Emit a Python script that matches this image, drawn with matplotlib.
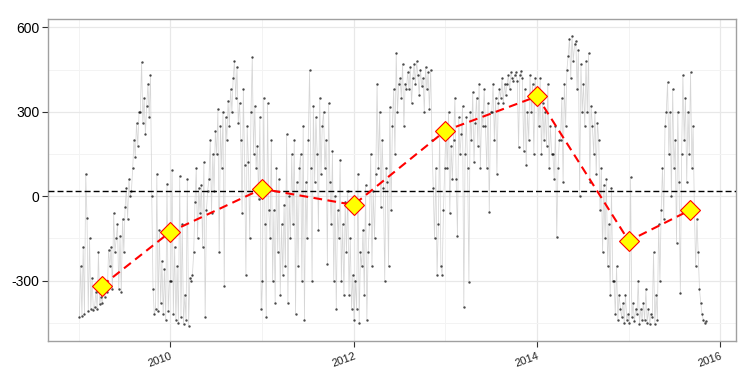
import numpy as np
import pandas as pd
import matplotlib
matplotlib.use("Agg")
import matplotlib.pyplot as plt
import matplotlib.dates as mdates
from matplotlib.ticker import FixedLocator

plt.rcParams['font.family'] = ['Liberation Sans', 'DejaVu Sans']
plt.rcParams['axes.unicode_minus'] = False

# ---- daily-ish series (about 6 readings per month) ----
v2009 = [-430, -250, -425, -180, -420, 80,
         -78, -410, -150, -400, -290, -405,
         -395, -340, -400, -200, -385, -360,
         -380, -330, -360, -300, -340, -190,
         -250, -180, -330, -60, -200, -150,
         -100, -330, -140, -340, -80, -200,
         -40, 30, -80, 60, 0, 20,
         100, 200, 140, 260, 180, 300,
         300, 476, 260, 350, 220, 320,
         400, 280, 430, 0, -330, -420,
         -400, 80, -410, -120, -380, -230,
         -420, -260, -440, 45, -410, -300]
v2010 = [-300, 92, -420, -180, -440, -250,
         -450, 70, -430, -100, -455, -350,
         -440, 60, -460, -290, -300, -280,
         -200, -20, 100, -150, 30, -60,
         40, -180, 120, -430, -50, 20,
         60, 200, -60, 150, 20, 230,
         150, 310, -200, 250, 100, 300,
         -320, 280, 200, 340, 250, 380,
         300, 420, 480, 350, 460, 260,
         330, 200, -60, 380, 110, -280,
         250, 120, -150, 300, 494, 150,
         320, 100, 180, -10, 280, -400]
v2011 = [-300, 350, -100, -430, 330, -50,
         -150, 200, -300, -50, -380, 100,
         -200, 60, -350, -100, -280, -30,
         -250, 220, -380, 0, -150, 150,
         -100, 200, -420, 50, -250, 100,
         150, -300, 250, -440, 50, -150,
         200, 447, 100, -300, 320, 50,
         280, 150, -120, 350, 80, 250,
         300, 100, 200, -240, 330, 50,
         -100, 160, -300, 0, -400, -50,
         -150, 130, -300, -100, -350, -20,
         -200, 20, -350, -150, -400, -280]
v2012 = [-440, -300, -400, 80, -450, -200,
         -250, -120, -350, 40, -440, -200,
         -100, 150, -250, 20, -150, 80,
         400, 100, 300, -40, 200, 30,
         -300, 100, 50, -250, 317, -50,
         250, 380, 150, 508, 300, 400,
         420, 350, 470, 250, 400, 380,
         440, 380, 460, 330, 420, 470,
         400, 479, 430, 360, 450, 390,
         420, 300, 460, 380, 440, 310,
         450, 200, 30, -150, 100, -280,
         -100, 230, -250, -280, -50, 100]
v2013 = [250, 100, 300, -60, 180, 60,
         200, 350, 60, -140, 280, 150,
         220, 320, -395, 150, 280, 100,
         -305, 300, 200, 370, 120, 260,
         350, 180, 400, 100, 300, 250,
         380, 250, 100, 330, -57, 300,
         300, 400, 200, 350, 80, 330,
         380, 350, 420, 330, 400, 360,
         400, 430, 380, 440, 420, 410,
         430, 440, 410, 175, 430, 445,
         420, 160, 380, 110, 300, 200,
         430, 300, 400, 150, 420, 350]
v2014 = [380, 250, 420, 150, 330, 200,
         300, 180, 400, 100, 250, 150,
         150, 60, 250, -145, 100, 200,
         200, 350, 50, 400, 250, 450,
         500, 560, 420, 570, 480, 540,
         550, 380, 520, 0, 470, 300,
         400, 250, 480, 300, 508, 50,
         320, 250, 150, 300, 80, 260,
         200, -50, 100, -200, 40, -150,
         60, -250, -100, -350, 30, -300,
         -300, -420, -250, -440, -350, -400,
         -430, -380, -450, -350, -440, -420]
v2015 = [-450, 67, -430, -380, -445, -400,
         -420, -300, -455, -400, -440, -380,
         -440, -330, -450, -400, -455, -420,
         -430, -200, -455, -350, -440, -100,
         -300, -50, 100, -80, 250, 300,
         405, 150, 300, 0, 380, 100,
         200, -167, 300, 50, -345, 150,
         430, 200, 350, 50, 300, 150,
         440, 100, 250, -50, -250, -80,
         -200, -330, -380, -420, -440, -450,
         -445]

year_series = {2009: v2009, 2010: v2010, 2011: v2011, 2012: v2012,
               2013: v2013, 2014: v2014, 2015: v2015}
year_ends = {2015: '2015-11-04'}

# ---- yearly means (diamonds) ----
mean_dates = ['2009-04-03', '2010-01-01', '2011-01-01', '2012-01-01',
              '2013-01-01', '2014-01-01', '2015-01-01', '2015-09-01']
mean_vals = [-319, -127, 26, -31, 233, 355, -159, -50]

overall_mean = 18

dates = []
vals = []
for yr, vs in year_series.items():
    start = f'{yr}-01-04' if yr == 2009 else f'{yr}-01-03'
    end = year_ends.get(yr, f'{yr}-12-29')
    dates.extend(pd.date_range(start, end, periods=len(vs)))
    vals.extend(vs)
dates = pd.DatetimeIndex(dates)
vals = np.array(vals, dtype=float)

fig = plt.figure(figsize=(7.54, 3.77), dpi=100)
ax = fig.add_axes([48/754, 1-341/377, (736-48)/754, (341-19)/377])

ax.set_xlim(pd.Timestamp('2008-09-01'), pd.Timestamp('2016-03-03'))
ax.set_ylim(-515, 630)

# grid
ax.xaxis.set_major_locator(mdates.YearLocator(2))
ax.xaxis.set_major_formatter(mdates.DateFormatter('%Y'))
ax.xaxis.set_minor_locator(FixedLocator(mdates.date2num(
    [pd.Timestamp(f'{y}-01-01') for y in (2009, 2011, 2013, 2015)])))
ax.yaxis.set_major_locator(FixedLocator([-300, 0, 300, 600]))
ax.yaxis.set_minor_locator(FixedLocator([-450, -150, 150, 450]))
ax.grid(which='major', color='#e8e8e8', lw=0.9)
ax.grid(which='minor', color='#f3f3f3', lw=0.7)
ax.set_axisbelow(True)

ax.plot(dates, vals, color='#cfcfcf', lw=0.55, alpha=0.85, zorder=2)
ax.scatter(dates, vals, s=3, color='black', alpha=0.7, lw=0, zorder=3)

ax.axhline(overall_mean, color='black', lw=1.0, ls=(0, (4.3, 2.2)), zorder=4)

ax.plot(pd.to_datetime(mean_dates), mean_vals, color='red', lw=1.5,
        ls=(0, (4.2, 2.6)), marker='D', ms=10, mfc='yellow', mec='red',
        mew=0.8, zorder=5)

for s in ax.spines.values():
    s.set_color('#a0a0a0')
    s.set_linewidth(1.0)

ax.tick_params(which='major', length=4, width=0.8, color='#333333')
ax.tick_params(which='minor', length=0)
ax.tick_params(axis='y', labelsize=10, pad=2, labelcolor='black')
ax.tick_params(axis='x', labelsize=8, pad=3, labelcolor='#222222')
for lab in ax.get_xticklabels():
    lab.set_rotation(20)
    lab.set_ha('right')
    lab.set_va('top')
    lab.set_rotation_mode('anchor')

fig.savefig('out.png', dpi=100, facecolor='white')
